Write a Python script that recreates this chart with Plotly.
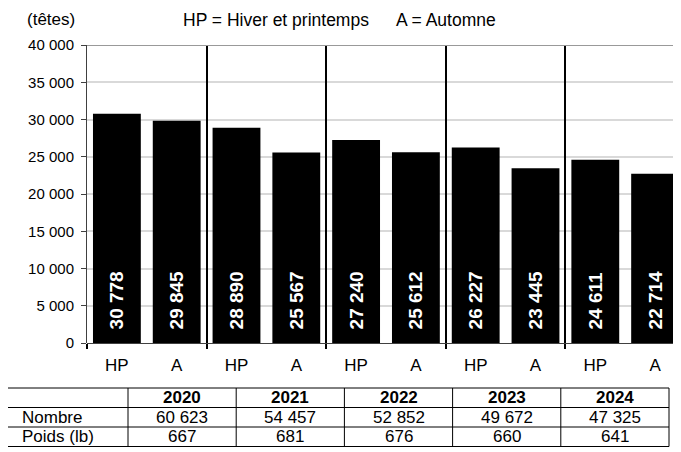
import plotly.graph_objects as go

# ---------------- data ----------------
categories = ["HP", "A", "HP", "A", "HP", "A", "HP", "A", "HP", "A"]
values = [30778, 29845, 28890, 25567, 27240, 25612, 26227, 23445, 24611, 22714]
years = ["2020", "2021", "2022", "2023", "2024"]
nombre = ["60 623", "54 457", "52 852", "49 672", "47 325"]
poids = ["667", "681", "676", "660", "641"]
row_labels = ["Nombre", "Poids (lb)"]
ytick_vals = [0, 5000, 10000, 15000, 20000, 25000, 30000, 35000, 40000]
ytick_text = ["0", "5 000", "10 000", "15 000", "20 000", "25 000", "30 000", "35 000", "40 000"]
unit_label = "(têtes)"
legend_hp = "HP = Hiver et printemps"
legend_a = "A = Automne"

# page body has an 8px margin: figure sized to fit the 681x452 window
OFF = 8
WIN_W, WIN_H = 681, 452
W, H = WIN_W - OFF, WIN_H - OFF
FONT = "Liberation Sans, Arial, sans-serif"

xpos = list(range(len(values)))
labels = ["\u00a0\u00a0" + f"{v:,}".replace(",", " ") for v in values]
boundaries = [-0.5] + [2 * i + 1.5 for i in range(len(years) - 1)]


def px(x):
    """window x pixel -> paper fraction"""
    return (x - OFF) / W


def py(y):
    """window y pixel -> paper fraction"""
    return 1 - (y - OFF) / H


# plot area geometry (window pixels)
px_left, px_right, px_top, px_bottom = 87, 681, 45, 343
cat_w = 59.8
x_max = -0.5 + (px_right - px_left) / cat_w

fig = go.Figure()
fig.add_trace(go.Bar(
    x=xpos, y=values, width=0.8,
    marker=dict(color="black", line=dict(width=0)),
    text=labels, textposition="inside", insidetextanchor="start",
    textangle=-90,
    textfont=dict(family=FONT, size=19, color="white", weight="bold"),
    hoverinfo="skip",
))
# invisible trace for overlay axis (year separators)
fig.add_trace(go.Scatter(x=[boundaries[0]], y=[0], xaxis="x2", mode="markers",
                         marker=dict(opacity=0), hoverinfo="skip", showlegend=False))

# ---------------- table (grid lines + text) ----------------
tab_left, tab_first_w, tab_col_w = 7, 121, 108.2
tab_top, row_h = 388, 19.5
n_rows = 1 + len(row_labels)
col_edges = [tab_left, tab_left + tab_first_w] + [tab_left + tab_first_w + tab_col_w * (i + 1) for i in range(len(years))]
row_edges = [tab_top + row_h * i for i in range(n_rows + 1)]

shapes = []
for xe in col_edges:
    shapes.append(dict(type="line", xref="paper", yref="paper",
                       x0=px(xe), x1=px(xe), y0=py(row_edges[0]), y1=py(row_edges[-1]),
                       line=dict(color="black", width=1)))
for ye in row_edges:
    shapes.append(dict(type="line", xref="paper", yref="paper",
                       x0=px(col_edges[0]), x1=px(col_edges[-1]), y0=py(ye), y1=py(ye),
                       line=dict(color="black", width=1)))
# darker top border line of plot area
shapes.append(dict(type="line", xref="paper", yref="y",
                   x0=px(px_left), x1=1, y0=40000, y1=40000,
                   line=dict(color="#999999", width=2)))

annotations = []
TF = dict(family=FONT, size=17, color="black")
for j, yr in enumerate(years):
    cx = (col_edges[j + 1] + col_edges[j + 2]) / 2
    annotations.append(dict(text=f"<b>{yr}</b>", xref="paper", yref="paper",
                            x=px(cx), y=py((row_edges[0] + row_edges[1]) / 2),
                            xanchor="center", yanchor="middle", showarrow=False, font=TF))
table_rows = [nombre, poids]
for i, (lab, row) in enumerate(zip(row_labels, table_rows)):
    cy = (row_edges[i + 1] + row_edges[i + 2]) / 2
    annotations.append(dict(text=lab, xref="paper", yref="paper",
                            x=px(col_edges[0] + 13), y=py(cy),
                            xanchor="left", yanchor="middle", showarrow=False, font=TF))
    for j, val in enumerate(row):
        cx = (col_edges[j + 1] + col_edges[j + 2]) / 2
        annotations.append(dict(text=val, xref="paper", yref="paper",
                                x=px(cx), y=py(cy),
                                xanchor="center", yanchor="middle", showarrow=False, font=TF))

annotations += [
    dict(text=unit_label, xref="paper", yref="paper", x=px(25), y=py(20),
         xanchor="left", yanchor="middle", showarrow=False,
         font=dict(family=FONT, size=17, color="black")),
    dict(text=legend_hp, xref="paper", yref="paper", x=px(181), y=py(20),
         xanchor="left", yanchor="middle", showarrow=False,
         font=dict(family=FONT, size=17.5, color="black")),
    dict(text=legend_a, xref="paper", yref="paper", x=px(394), y=py(20),
         xanchor="left", yanchor="middle", showarrow=False,
         font=dict(family=FONT, size=17.5, color="black")),
]

fig.update_layout(
    width=W, height=H,
    margin=dict(l=0, r=0, t=0, b=0, pad=0, autoexpand=False),
    paper_bgcolor="white", plot_bgcolor="white",
    showlegend=False,
    font=dict(family=FONT, size=15, color="black"),
    xaxis=dict(
        domain=[px(px_left), px(px_right)],
        range=[-0.5, x_max], automargin=False,
        tickmode="array", tickvals=xpos, ticktext=categories,
        ticks="", showgrid=False, zeroline=False, showline=False,
        tickfont=dict(family=FONT, size=17, color="black"),
        ticklabelstandoff=10,
        anchor="y", fixedrange=True,
    ),
    xaxis2=dict(
        overlaying="x", matches="x", anchor="y", side="bottom",
        range=[-0.5, x_max], automargin=False,
        tickmode="array", tickvals=boundaries,
        showticklabels=False, ticks="outside", ticklen=5, tickwidth=1.5,
        tickcolor="black",
        showgrid=True, gridcolor="black", gridwidth=1.5,
        zeroline=False, showline=False,
    ),
    yaxis=dict(
        domain=[py(px_bottom), py(px_top)],
        range=[0, 40000], automargin=False,
        tickmode="array", tickvals=ytick_vals, ticktext=ytick_text,
        ticks="outside", ticklen=5, tickcolor="#404040", tickwidth=1,
        showline=True, linecolor="#404040", linewidth=1,
        showgrid=True, gridcolor="#d9d9d9", gridwidth=1.5,
        zeroline=True, zerolinecolor="#404040", zerolinewidth=1,
        tickfont=dict(family=FONT, size=15, color="black"),
        ticklabelstandoff=4,
    ),
    shapes=shapes,
    annotations=annotations,
)

fig.write_html("out.html")
